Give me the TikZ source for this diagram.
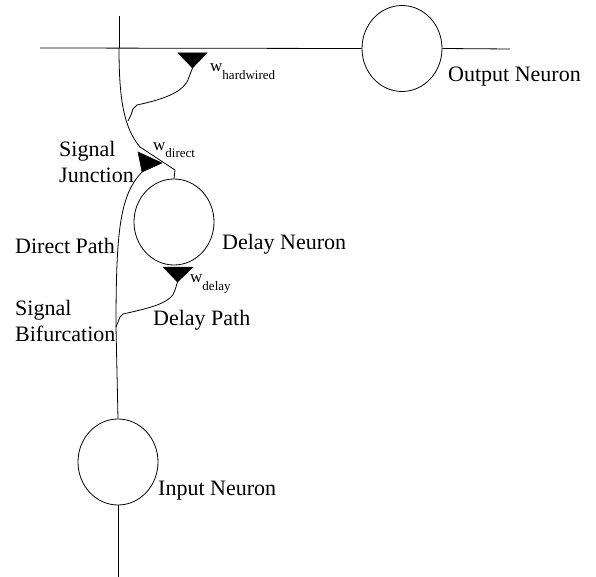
\documentclass[tikz,border=0pt]{standalone}
\usepackage{fontspec}
\setmainfont{Liberation Serif}
\usetikzlibrary{shapes.geometric}
\newcommand{\wsyn}[2]{{\fontsize{17}{17}\selectfont w}\raisebox{-#2}{\fontsize{13}{13}\selectfont #1}}
\tikzset{
  neuron/.style={draw, ellipse, line width=0.8pt, minimum width=80pt, minimum height=86pt, inner sep=0pt},
  wire/.style={line width=0.8pt},
  lab/.style={inner sep=0pt, anchor=base west, font=\fontsize{22}{26}\selectfont},
  lab2/.style={inner sep=0pt, anchor=north west, align=left, font=\fontsize{22}{26.5}\selectfont},
  wlab/.style={inner sep=0pt, anchor=base west},
  syn/.style={fill=black, draw=black, line width=0.5pt}
}
\begin{document}
\begin{tikzpicture}[x=1pt,y=-1pt]
\useasboundingbox (0,0) rectangle (596,577);
% neurons
\node[neuron] (output) at (402,48.5) {};
\node[neuron] (delay) at (174,222) {};
\node[neuron] (input) at (118,462) {};
% coordinates
\coordinate (topend) at (119,16);
\coordinate (cross) at (119,48);
\coordinate (leftend) at (40,48);
\coordinate (rightend) at (510,49);
\coordinate (bottomend) at (118,577);
\coordinate (bif) at (116,327);
\coordinate (bend) at (140,147);
\coordinate (dtop) at (175,170);
% synapse triangles
\coordinate (hwA) at (178,53);
\coordinate (hwB) at (207,53);
\coordinate (hwT) at (192.5,68);
\coordinate (dlA) at (163,267);
\coordinate (dlB) at (193,267);
\coordinate (dlT) at (177.5,282);
\coordinate (drA) at (138,152);
\coordinate (drB) at (162,163);
\coordinate (drC) at (142,172);
\fill[syn] (hwA) -- (hwB) -- (hwT) -- cycle;
\fill[syn] (dlA) -- (dlB) -- (dlT) -- cycle;
\fill[syn] (drA) -- (drB) -- (drC) -- cycle;
% output lines
\draw[wire] (topend) -- (cross);
\draw[wire] (leftend) -- (output.west);
\draw[wire] (output.east) -- (rightend);
% main path from delay neuron up to the output line
\draw[wire] (delay.north) -- (dtop) -- (bend) .. controls (124,128) and (119,100) .. (cross);
% hardwired path
\draw[wire] (hwT) -- (189,77) .. controls (185,93) and (160,100) .. (137,105) -- (133,109) -- (131,115) -- (128,121);
% input line
\draw[wire] (input.north) -- (bif);
\draw[wire] (input.south) -- (bottomend);
% direct path
\draw[wire] (bif) .. controls (116,230) and (120,195) .. (drC);
% delay path
\draw[wire] (bif) -- (118,322) -- (120,317) -- (123,314) .. controls (150,308) and (172,303) .. (175,290) -- (dlT);
% labels
\node[lab] (loutput) at (448,82) {Output Neuron};
\node[lab] (linput) at (158,495) {Input Neuron};
\node[lab] (ldelay) at (222,249) {Delay Neuron};
\node[lab] (ldelaypath) at (153,325) {Delay Path};
\node[lab] (ldirect) at (15,253) {Direct Path};
\node[lab2] (ljunction) at (59,141) {Signal\\Junction};
\node[lab2] (lbif) at (15,300) {Signal\\Bifurcation};
\node[wlab] (whw) at (210,72) {\wsyn{hardwired}{8pt}};
\node[wlab] (wdr) at (153,151) {\wsyn{direct}{7pt}};
\node[wlab] (wdl) at (190,282) {\wsyn{delay}{8pt}};
\end{tikzpicture}
\end{document}
